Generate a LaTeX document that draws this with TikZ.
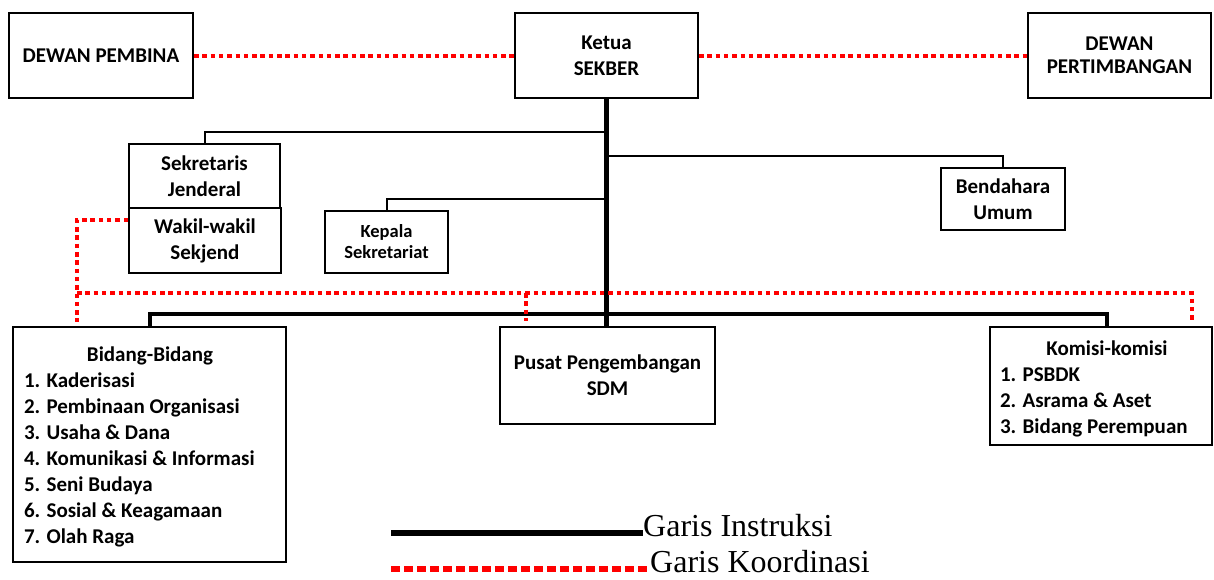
\documentclass[tikz,border=0pt]{standalone}
\usepackage{fontspec}
\setmainfont{Carlito}
\newfontfamily\tnr{Liberation Serif}
\begin{document}
\begin{tikzpicture}[x=1pt,y=-1pt,
  box/.style={draw=black, line width=2pt, fill=white, align=center, inner sep=0pt, font=\bfseries\fontsize{21}{26}\selectfont},
  small/.style={font=\bfseries\fontsize{18.5}{21}\selectfont},
  instr/.style={line width=2pt},
  trunk/.style={line width=4.5pt},
  coord/.style={draw=red, line width=4pt, dash pattern=on 4.5pt off 3.8pt},
  lst/.style={font=\bfseries\fontsize{21}{26}\selectfont, inner sep=0pt},
  leg/.style={font=\tnr\fontsize{32}{36}\selectfont, inner sep=0pt, anchor=base west}]
\useasboundingbox (0,0) rectangle (1214,579);

\node[box, minimum width=184pt, minimum height=85pt] (pembina) at (101,55.5) {DEWAN PEMBINA};
\node[box, minimum width=183pt, minimum height=85pt] (ketua) at (606.5,55.5) {Ketua\\SEKBER};
\node[box, minimum width=183pt, minimum height=85pt, font=\bfseries\fontsize{21}{23.5}\selectfont] (pertimb) at (1119.5,55.5) {DEWAN\\PERTIMBANGAN};
\node[box, minimum width=151pt, minimum height=64pt] (sekjen) at (204.5,176) {Sekretaris\\Jenderal};
\node[box, minimum width=152pt, minimum height=65pt] (wakil) at (205,240.5) {Wakil-wakil\\Sekjend};
\node[box, small, minimum width=123pt, minimum height=62pt] (kepala) at (386.5,242) {Kepala\\Sekretariat};
\node[box, minimum width=124pt, minimum height=62pt] (bendahara) at (1003,199) {Bendahara\\Umum};
\node[box, minimum width=273pt, minimum height=235pt] (bidang) at (149.5,444.5) {};
\node[box, minimum width=215pt, minimum height=97pt] (pusat) at (607.5,375.5) {Pusat Pengembangan\\SDM};
\node[box, minimum width=222pt, minimum height=118pt] (komisi) at (1101,386) {};

\node[lst] (bidangtxt) at (150,447) {\begin{tabular}{@{}l@{}}\makebox[252pt][c]{Bidang-Bidang}\\1. Kaderisasi\\2. Pembinaan Organisasi\\3. Usaha \& Dana\\4. Komunikasi \& Informasi\\5. Seni Budaya\\6. Sosial \& Keagamaan\\7. Olah Raga\end{tabular}};
\node[lst] (komisitxt) at (1107,389) {\begin{tabular}{@{}l@{}}\makebox[214pt][c]{Komisi-komisi}\\1. PSBDK\\2. Asrama \& Aset\\3. Bidang Perempuan\end{tabular}};

\draw[trunk] (ketua.south) -- (ketua.south |- pusat.north);
\draw[instr] (ketua.south |- 0,132) -| (sekjen.north);
\draw[instr] (ketua.south |- 0,156) -| (bendahara.north);
\draw[instr] (ketua.south |- 0,199) -| (kepala.north);
\draw[line width=4pt] (bidang.north) |- (ketua.south |- 0,314) -| ([xshift=6pt]komisi.north);

\draw[coord] (pembina.east) -- (ketua.west);
\draw[coord] (ketua.east) -- (pertimb.west);
\coordinate (kl) at (77,322);
\coordinate (km) at (526,321);
\coordinate (kr) at (1192,321);
\draw[coord] (wakil.west |- 0,220) -| (kl);
\draw[coord] (kl |- 0,293) -- (kr |- 0,293) -- (kr);
\draw[coord] (km |- 0,293) -- (km);

\node[leg] (gi) at (643,536) {Garis Instruksi};
\node[leg] (gk) at (650,572) {Garis Koordinasi};
\coordinate (li) at (391,533);
\coordinate (lk) at (391,569);
\draw[line width=6pt] (li) -- (li -| gi.west);
\draw[draw=red, line width=6pt, dash pattern=on 9pt off 4pt] (lk) -- (lk -| gk.west);
\end{tikzpicture}
\end{document}
